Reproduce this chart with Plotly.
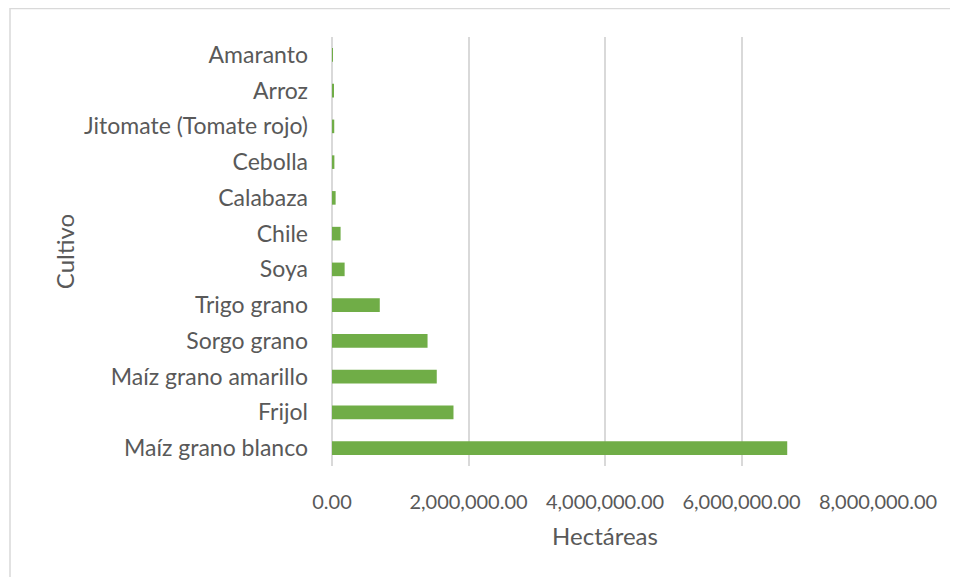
import plotly.graph_objects as go

# crops, bottom to top as drawn
cultivos = ["Maíz grano blanco", "Frijol", "Maíz grano amarillo", "Sorgo grano",
            "Trigo grano", "Soya", "Chile", "Calabaza", "Cebolla",
            "Jitomate (Tomate rojo)", "Arroz", "Amaranto"]
hectareas = [6670000, 1780000, 1535000, 1400000, 700000, 185000, 126000,
             53000, 35000, 33000, 25000, 3000]
x_ticks = [0, 2000000, 4000000, 6000000, 8000000]
x_tick_text = ["0.00", "2,000,000.00", "4,000,000.00", "6,000,000.00", "8,000,000.00"]

FONT = "Lato, Calibri, sans-serif"
GREY = "#595959"

# page body adds an 8px offset, so the plot box is placed 8px up/left
L, T, R, B = 324, 29, 870, 458

fig = go.Figure(go.Bar(
    x=hectareas, y=cultivos, orientation="h",
    marker=dict(color="#70AD47", line=dict(width=0)),
    width=0.38,
))

fig.update_layout(
    width=958, height=577,
    margin=dict(l=L, r=958 - R, t=T, b=577 - B),
    paper_bgcolor="white", plot_bgcolor="white",
    font=dict(family=FONT, color=GREY, size=20),
    showlegend=False,
    shapes=[dict(type="rect", xref="paper", yref="paper",
                 x0=(2 - L) / (R - L), x1=(975 - L) / (R - L),
                 y0=(B - 600) / (B - T), y1=(B - 0.5) / (B - T),
                 line=dict(color="#d9d9d9", width=1.5), fillcolor="rgba(0,0,0,0)",
                 layer="below")],
)
fig.update_xaxes(
    range=[0, 8000000], tickvals=x_ticks, ticktext=x_tick_text,
    showgrid=True, gridcolor="#d9d9d9", gridwidth=1.5,
    zeroline=True, zerolinecolor="#d9d9d9", zerolinewidth=1.5,
    showline=False, ticks="", ticklabelstandoff=22,
    tickfont=dict(size=20, color=GREY),
    title=dict(text="Hectáreas", font=dict(size=24, color=GREY), standoff=16),
)
fig.update_yaxes(
    range=[-0.5, 11.5], showgrid=False, showline=False, ticks="",
    ticklabelstandoff=23,
    tickfont=dict(size=23, color=GREY),
    title=dict(text="Cultivo", font=dict(size=24, color=GREY), standoff=2),
)

fig.write_html("out.html")
